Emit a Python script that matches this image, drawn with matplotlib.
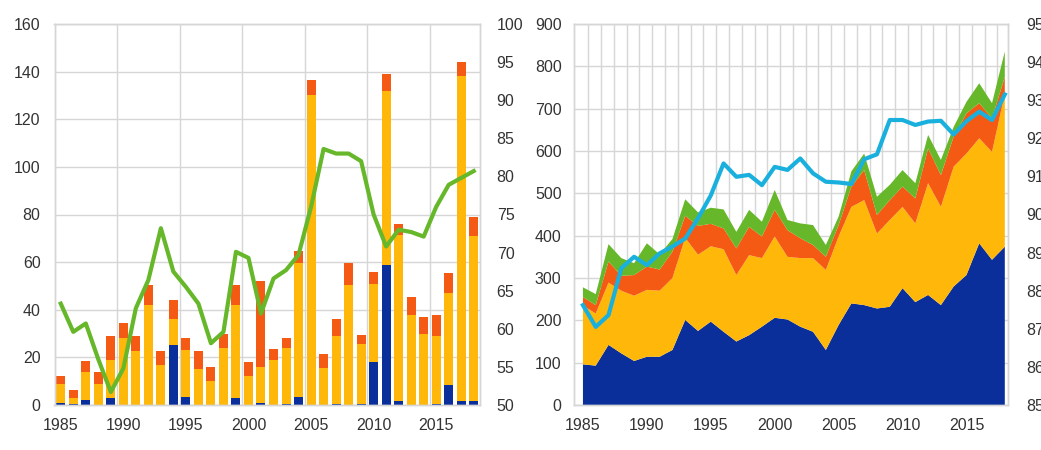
import numpy as np
import matplotlib
matplotlib.use("Agg")
import matplotlib.pyplot as plt
from matplotlib.ticker import MultipleLocator, FixedLocator

plt.rcParams['font.family'] = ['Liberation Sans', 'DejaVu Sans']

years = list(range(1985, 2019))

# ---- Left panel: stacked bars (left axis) + line (right axis)
bar_blue = [1, 0.5, 2, 0, 3, 0, 0, 0, 0, 25, 3.5, 0, 0, 0, 3, 0, 1, 0, 0.5, 3.5,
            0, 0, 0.5, 0, 0.5, 18, 59, 1.5, 0, 0, 0.5, 8.5, 1.5, 1.5]
bar_yellow = [8, 2.5, 12, 9, 16, 28, 22.5, 42, 17, 11, 19.5, 15, 10, 24, 39, 12, 15, 19, 23.5, 56,
              130, 15.5, 28.5, 50.5, 25, 33, 73, 70, 38, 30, 28.5, 38.5, 136.5, 69.5]
bar_orange = [3, 3.5, 4.5, 5, 10, 6.5, 6.5, 8.5, 5.5, 8, 5, 7.5, 6, 6, 8.5, 6, 36, 4.5, 4, 5,
              6.5, 6, 7, 9, 4, 5, 7, 4.5, 7.5, 7, 9, 8.5, 6, 8]
line_green = [63.3, 59.6, 60.7, 56.0, 51.7, 54.8, 62.7, 66.4, 73.2, 67.5, 65.5, 63.3, 58.1, 59.6,
              70.1, 69.3, 62.0, 66.6, 67.7, 69.7, 76.0, 83.6, 83.0, 83.0, 82.0, 75.0, 70.8, 73.0,
              72.7, 72.1, 76.0, 78.9, 79.8, 80.7]

# ---- Right panel: stacked areas (left axis) + line (right axis)
area_blue = [96, 93, 142, 122, 104, 114, 114, 130, 201, 175, 197, 173, 150, 165, 185, 206, 202,
             185, 173, 130, 189, 240, 236, 228, 232, 276, 243, 260, 236, 280, 307, 382, 343, 374]
area_yellow = [139, 123, 147, 148, 154, 158, 156, 170, 194, 180, 178, 195, 157, 189, 162, 192, 148,
               162, 174, 189, 209, 228, 248, 177, 205, 192, 186, 264, 232, 283, 287, 248, 255, 361]
area_orange = [20, 20, 50, 35, 49, 55, 50, 62, 52, 68, 53, 49, 63, 67, 51, 63, 63,
               47, 31, 31, 27, 48, 71, 44, 47, 48, 59, 82, 75, 71, 95, 83, 79, 40]
area_green = [23, 26, 41, 42, 28, 55, 36, 30, 39, 32, 38, 45, 39, 40, 35, 47, 24,
              35, 47, 28, 20, 36, 39, 43, 36, 39, 36, 32, 36, 23, 27, 47, 36, 60]
line_cyan = [87.62, 87.05, 87.36, 88.59, 88.89, 88.67, 88.98, 89.16, 89.37, 89.9, 90.5, 91.34,
             90.99, 91.04, 90.77, 91.25, 91.17, 91.47, 91.08, 90.86, 90.84, 90.8, 91.45, 91.58,
             92.48, 92.48, 92.35, 92.44, 92.46, 92.1, 92.45, 92.7, 92.48, 93.15]

C_BLUE = '#0a2f9a'
C_YELLOW = '#ffb80a'
C_ORANGE = '#f55a14'
C_GREEN = '#66b82a'
C_CYAN = '#1ab0de'
GRID = '#d6d6d6'
TXT = '#333333'
FS = 11.5

fig = plt.figure(figsize=(10.41, 4.5), dpi=100)

def style(ax):
    for s in ax.spines.values():
        s.set_color(GRID)
        s.set_linewidth(1.0)
    ax.tick_params(length=0, labelsize=FS, colors=TXT)

# Left panel
ax1 = fig.add_axes([54.5/1041, 1-405/450, (480-54.5)/1041, 381/450])
x = np.array(years)
b = np.array(bar_blue); yv = np.array(bar_yellow); o = np.array(bar_orange)
ax1.bar(x, b, width=0.72, color=C_BLUE, zorder=2)
ax1.bar(x, yv, width=0.72, bottom=b, color=C_YELLOW, zorder=2)
ax1.bar(x, o, width=0.72, bottom=b+yv, color=C_ORANGE, zorder=2)
ax1.set_xlim(1984.5, 2018.5)
ax1.set_ylim(0, 160)
ax1.yaxis.set_major_locator(MultipleLocator(20))
ax1.set_xticks(range(1985, 2019, 5))
ax1.xaxis.set_minor_locator(FixedLocator(np.arange(1989.5, 2018, 5)))
ax1.grid(True, axis='y', which='major', color=GRID, lw=1.0, zorder=0)
ax1.grid(True, axis='x', which='minor', color=GRID, lw=1.0, zorder=0)
ax1.set_axisbelow(True)
style(ax1)
ax1.tick_params(axis='y', pad=10)
ax1.tick_params(axis='x', pad=9)
ax1.tick_params(which='minor', length=0)

ax1b = ax1.twinx()
ax1b.plot(x, line_green, color=C_GREEN, lw=3.0, zorder=3, solid_joinstyle='round')
ax1b.set_ylim(50, 100)
ax1b.yaxis.set_major_locator(MultipleLocator(5))
style(ax1b)
ax1b.tick_params(axis='y', pad=12)

# Right panel
ax2 = fig.add_axes([574/1041, 1-405/450, (1008-574)/1041, 381/450])
ax2.stackplot(x, area_blue, area_yellow, area_orange, area_green,
              colors=[C_BLUE, C_YELLOW, C_ORANGE, C_GREEN], lw=0, zorder=2)
ax2.set_xlim(1984.3, 2018.25)
ax2.set_ylim(0, 900)
ax2.yaxis.set_major_locator(MultipleLocator(100))
ax2.set_xticks(range(1985, 2019, 5))
ax2.xaxis.set_minor_locator(FixedLocator(np.arange(1985.42, 2018, 1)))
ax2.grid(True, axis='y', which='major', color=GRID, lw=1.0, zorder=0)
ax2.grid(True, axis='x', which='minor', color=GRID, lw=1.0, zorder=0)
ax2.set_axisbelow(True)
style(ax2)
ax2.tick_params(axis='y', pad=9)
ax2.tick_params(axis='x', pad=9)
ax2.tick_params(which='minor', length=0)

ax2b = ax2.twinx()
ax2b.plot(x, line_cyan, color=C_CYAN, lw=3.0, zorder=3, solid_joinstyle='round')
ax2b.set_ylim(85, 95)
ax2b.yaxis.set_major_locator(MultipleLocator(1))
style(ax2b)
ax2b.tick_params(axis='y', pad=13)

fig.savefig('out.png', dpi=100)
